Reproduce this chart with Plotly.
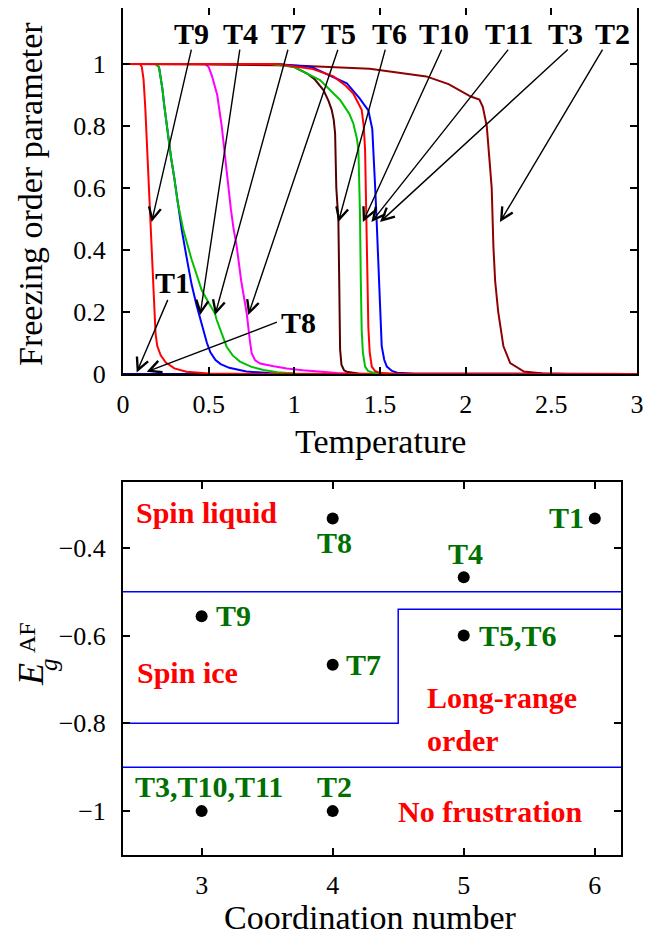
import plotly.graph_objects as go

# The page body has an 8px default margin; the figure is sized and placed so that
# reference pixel (X, Y) lands at the same place in the screenshot.
OFF = 8
W, H = 662 - 2 * OFF, 943 - 2 * OFF
FONT = "Liberation Serif"

# ---------------- top panel data: freezing order parameter vs temperature ----------------
T9_T = [0, 0.10, 0.11, 0.12, 0.13, 0.14, 0.15, 0.16, 0.17, 0.18, 0.19, 0.20, 0.22, 0.25, 0.30, 0.37, 0.5, 0.8, 3.0]
T9_m = [1, 1, 0.99, 0.95, 0.86, 0.74, 0.60, 0.50, 0.36, 0.22, 0.13, 0.09, 0.06, 0.037, 0.018, 0.007, 0.002, 0, 0]

T4_T = [0, 0.19, 0.21, 0.22, 0.23, 0.24, 0.255, 0.28, 0.30, 0.317, 0.343, 0.37, 0.40, 0.43, 0.46, 0.49, 0.51, 0.54, 0.57, 0.62, 0.72, 0.85, 1.0, 3.0]
T4_m = [1, 1, 0.99, 0.96, 0.92, 0.87, 0.80, 0.70, 0.63, 0.56, 0.465, 0.38, 0.29, 0.22, 0.16, 0.10, 0.07, 0.045, 0.032, 0.02, 0.008, 0.003, 0.001, 0]

T7_T = [0, 0.19, 0.21, 0.22, 0.23, 0.24, 0.255, 0.28, 0.30, 0.317, 0.352, 0.40, 0.43, 0.459, 0.50, 0.537, 0.547, 0.575, 0.605, 0.64, 0.683, 0.75, 0.82, 0.90, 1.0, 1.2, 3.0]
T7_m = [1, 1, 0.99, 0.96, 0.92, 0.87, 0.80, 0.70, 0.63, 0.56, 0.465, 0.37, 0.32, 0.271, 0.23, 0.195, 0.174, 0.13, 0.088, 0.06, 0.04, 0.023, 0.013, 0.006, 0.002, 0, 0]

T5_T = [0, 0.48, 0.50, 0.52, 0.55, 0.576, 0.60, 0.615, 0.63, 0.645, 0.664, 0.69, 0.722, 0.74, 0.751, 0.77, 0.80, 0.88, 0.956, 1.05, 1.15, 1.25, 1.4, 3.0]
T5_m = [1, 1, 0.99, 0.96, 0.90, 0.80, 0.68, 0.60, 0.53, 0.47, 0.41, 0.30, 0.196, 0.11, 0.067, 0.045, 0.034, 0.025, 0.018, 0.012, 0.0075, 0.003, 0, 0]

T6_T = [0, 0.85, 0.92, 1.0, 1.072, 1.12, 1.17, 1.20, 1.218, 1.23, 1.238, 1.245, 1.25, 1.257, 1.262, 1.267, 1.275, 1.29, 1.306, 1.38, 3.0]
T6_m = [1, 1, 0.998, 0.99, 0.97, 0.95, 0.916, 0.88, 0.852, 0.82, 0.776, 0.60, 0.55, 0.497, 0.30, 0.08, 0.03, 0.012, 0.0075, 0.001, 0]

T10_T = [0, 0.86, 1.0, 1.15, 1.267, 1.32, 1.344, 1.365, 1.374, 1.38, 1.383, 1.388, 1.393, 1.40, 1.413, 1.43, 1.461, 1.55, 3.0]
T10_m = [1, 1, 0.99, 0.948, 0.884, 0.84, 0.809, 0.76, 0.723, 0.62, 0.52, 0.30, 0.142, 0.07, 0.024, 0.01, 0.004, 0, 0]

T11_T = [0, 0.9, 1.1, 1.228, 1.30, 1.344, 1.393, 1.405, 1.413, 1.417, 1.422, 1.428, 1.432, 1.44, 1.452, 1.47, 1.5, 1.6, 3.0]
T11_m = [1, 1, 0.985, 0.96, 0.93, 0.905, 0.852, 0.80, 0.723, 0.62, 0.50, 0.30, 0.15, 0.07, 0.024, 0.01, 0.003, 0, 0]

T3_T = [0, 0.9, 1.1, 1.306, 1.38, 1.432, 1.455, 1.465, 1.472, 1.48, 1.49, 1.497, 1.505, 1.51, 1.525, 1.54, 1.57, 1.6, 1.7, 3.0]
T3_m = [1, 1, 0.99, 0.938, 0.89, 0.85, 0.79, 0.70, 0.60, 0.50, 0.38, 0.27, 0.15, 0.09, 0.045, 0.024, 0.01, 0.004, 0.001, 0]

T2_T = [0, 0.5, 1.0, 1.44, 1.77, 1.9, 2.03, 2.08, 2.10, 2.123, 2.142, 2.152, 2.162, 2.172, 2.19, 2.22, 2.26, 2.34, 2.45, 2.6, 3.0]
T2_m = [1, 0.999, 0.995, 0.985, 0.96, 0.935, 0.895, 0.885, 0.862, 0.80, 0.67, 0.60, 0.41, 0.30, 0.20, 0.09, 0.035, 0.008, 0.002, 0, 0]

T1_T = [0, 3.0]
T1_m = [0, 0]
T8_T = [0, 3.0]
T8_m = [0, 0]

curves = [
    ("T1", T1_T, T1_m, "#800080"),
    ("T8", T8_T, T8_m, "#000080"),
    ("T2", T2_T, T2_m, "#900000"),
    ("T3", T3_T, T3_m, "#0000ff"),
    ("T4", T4_T, T4_m, "#0000ff"),
    ("T5", T5_T, T5_m, "#ff00ff"),
    ("T6", T6_T, T6_m, "#550000"),
    ("T7", T7_T, T7_m, "#00c000"),
    ("T9", T9_T, T9_m, "#ff0000"),
    ("T10", T10_T, T10_m, "#00c000"),
    ("T11", T11_T, T11_m, "#ff0000"),
]

# top-panel arrow labels
top_labels = ["T9", "T4", "T7", "T5", "T6", "T10", "T11", "T3", "T2", "T1", "T8"]
top_label_x = [0.401, 0.687, 0.965, 1.257, 1.553, 1.874, 2.25, 2.58, 2.859, 0.289, 1.027]
top_label_y = [1.10, 1.10, 1.10, 1.10, 1.10, 1.10, 1.10, 1.10, 1.10, 0.295, 0.165]
tail_x = [0.401, 0.683, 0.965, 1.257, 1.533, 1.864, 2.255, 2.605, 2.804, 0.265, 0.907]
tail_y = [1.051, 1.051, 1.051, 1.051, 1.051, 1.051, 1.051, 1.051, 1.051, 0.244, 0.169]
head_x = [0.167, 0.45, 0.537, 0.731, 1.257, 1.40, 1.45, 1.50, 2.20, 0.08, 0.138]
head_y = [0.49, 0.19, 0.19, 0.19, 0.49, 0.49, 0.49, 0.49, 0.49, 0.005, 0.007]

top_xticks = [0, 0.5, 1, 1.5, 2, 2.5, 3]
top_xticktext = ["0", "0.5", "1", "1.5", "2", "2.5", "3"]
top_yticks = [0, 0.2, 0.4, 0.6, 0.8, 1]
top_yticktext = ["0", "0.2", "0.4", "0.6", "0.8", "1"]

# ---------------- bottom panel data ----------------
coord_num = [6, 4, 5, 3, 5, 4, 3, 4]
energy = [-1/3, -1/3, -0.467, -0.556, -0.6, -2/3, -1.0, -1.0]
point_names = ["T1", "T8", "T4", "T9", "T5,T6", "T7", "T3,T10,T11", "T2"]
point_lab_x = [5.784, 4.017, 5.016, 3.244, 5.413, 4.238, 3.056, 4.017]
point_lab_y = [-0.331, -0.388, -0.414, -0.555, -0.599, -0.665, -0.944, -0.944]

# phase boundaries
b1_x = [2.4, 6.2]
b1_y = [-0.5, -0.5]
b2_x = [2.4, 4.5, 4.5, 6.2]
b2_y = [-0.8, -0.8, -0.54, -0.54]
b3_x = [2.4, 6.2]
b3_y = [-0.9, -0.9]

region_names = ["Spin liquid", "Spin ice", "Long-range", "order", "No frustration"]
region_x = [3.038, 2.892, 4.704, 4.704, 5.203]
region_y = [-0.3195, -0.684, -0.740, -0.840, -1.001]
region_anchor = ["center", "center", "left", "left", "center"]

bot_xticks = [3, 4, 5, 6]
bot_xticktext = ["3", "4", "5", "6"]
bot_yticks = [-1, -0.8, -0.6, -0.4]
bot_yticktext = ["\u22121", "\u22120.8", "\u22120.6", "\u22120.4"]


def px(x):
    return (x - OFF) / W


def py(y):
    return min(1.0, max(0.0, 1 - (y - OFF) / H))


# top panel: 310 px per unit of order parameter, zero line at y=374 px
TOP_Y0, TOP_Y1 = 374, OFF
top_range = [0, (TOP_Y0 - TOP_Y1) / 310.0]

fig = go.Figure()

for name, xs, ys, col in curves:
    fig.add_trace(go.Scatter(x=xs, y=ys, mode="lines", name=name,
                             line=dict(color=col, width=2), xaxis="x", yaxis="y",
                             showlegend=False, hoverinfo="skip"))

for bx, by in [(b1_x, b1_y), (b2_x, b2_y), (b3_x, b3_y)]:
    fig.add_trace(go.Scatter(x=bx, y=by, mode="lines", line=dict(color="#0000ff", width=1.5),
                             xaxis="x2", yaxis="y2", showlegend=False, hoverinfo="skip"))

fig.add_trace(go.Scatter(x=coord_num, y=energy, mode="markers",
                         marker=dict(color="black", size=12), xaxis="x2", yaxis="y2",
                         showlegend=False, cliponaxis=False))

ann = []
lab_font = dict(family=FONT, size=30, color="black", weight="bold")
for i, lab in enumerate(top_labels):
    ann.append(dict(x=top_label_x[i], y=top_label_y[i], xref="x", yref="y", text=lab,
                    showarrow=False, font=lab_font, xanchor="center", yanchor="middle"))
    ann.append(dict(x=head_x[i], y=head_y[i], ax=tail_x[i], ay=tail_y[i],
                    xref="x", yref="y", axref="x", ayref="y", text="",
                    showarrow=True, arrowhead=5, arrowsize=1.7, arrowwidth=1.4,
                    arrowcolor="black"))

green_font = dict(family=FONT, size=30, color="#007000", weight="bold")
red_font = dict(family=FONT, size=30, color="#ff0000", weight="bold")
for i, nm in enumerate(point_names):
    ann.append(dict(x=point_lab_x[i], y=point_lab_y[i], xref="x2", yref="y2", text=nm,
                    showarrow=False, font=green_font, xanchor="center", yanchor="middle"))
for i, nm in enumerate(region_names):
    ann.append(dict(x=region_x[i], y=region_y[i], xref="x2", yref="y2", text=nm,
                    showarrow=False, font=red_font, xanchor=region_anchor[i], yanchor="middle"))

title_font = dict(family=FONT, size=34, color="black")
ann.append(dict(x=px(380), y=py(441), xref="paper", yref="paper", text="Temperature",
                showarrow=False, font=title_font, xanchor="center", yanchor="middle"))
ann.append(dict(x=px(370), y=py(917), xref="paper", yref="paper", text="Coordination number",
                showarrow=False, font=title_font, xanchor="center", yanchor="middle"))
ann.append(dict(x=px(30), y=py(194), xref="paper", yref="paper", text="Freezing order parameter",
                showarrow=False, font=title_font, textangle=-90, xanchor="center", yanchor="middle"))
# E_g^AF built from pieces (stacked sub/superscript)
ann.append(dict(x=px(31), y=py(675), xref="paper", yref="paper", text="<i>E</i>",
                showarrow=False, font=dict(family=FONT, size=36, color="black"),
                textangle=-90, xanchor="center", yanchor="middle"))
ann.append(dict(x=px(48), y=py(665), xref="paper", yref="paper", text="<i>g</i>",
                showarrow=False, font=dict(family=FONT, size=25, color="black"),
                textangle=-90, xanchor="center", yanchor="middle"))
ann.append(dict(x=px(27), y=py(638), xref="paper", yref="paper", text="AF",
                showarrow=False, font=dict(family=FONT, size=24, color="black"),
                textangle=-90, xanchor="center", yanchor="middle"))

axis_common = dict(showline=True, linecolor="black", linewidth=2, mirror="ticks",
                   ticks="inside", ticklen=7, tickwidth=1.5, tickcolor="black",
                   showgrid=False, zeroline=False, automargin=False,
                   tickfont=dict(family=FONT, size=26, color="black"))

fig.update_layout(
    width=W, height=H, autosize=False,
    margin=dict(l=0, r=0, t=0, b=0, pad=0),
    paper_bgcolor="white", plot_bgcolor="white",
    showlegend=False,
    xaxis=dict(domain=[px(123), px(637)], range=[0, 3], anchor="y",
               tickvals=top_xticks, ticktext=top_xticktext, ticklabelstandoff=6, **axis_common),
    yaxis=dict(domain=[py(TOP_Y0), py(TOP_Y1)], range=top_range, anchor="x",
               tickvals=top_yticks, ticktext=top_yticktext, ticklabelstandoff=10, **axis_common),
    xaxis2=dict(domain=[px(123), px(621)], range=[2.4, 6.2], anchor="y2",
                tickvals=bot_xticks, ticktext=bot_xticktext, ticklabelstandoff=6, **axis_common),
    yaxis2=dict(domain=[py(855), py(482)], range=[-1.1, -0.25], anchor="x2",
                tickvals=bot_yticks, ticktext=bot_yticktext, ticklabelstandoff=10, **axis_common),
    annotations=ann,
)

fig.write_html("out.html")
